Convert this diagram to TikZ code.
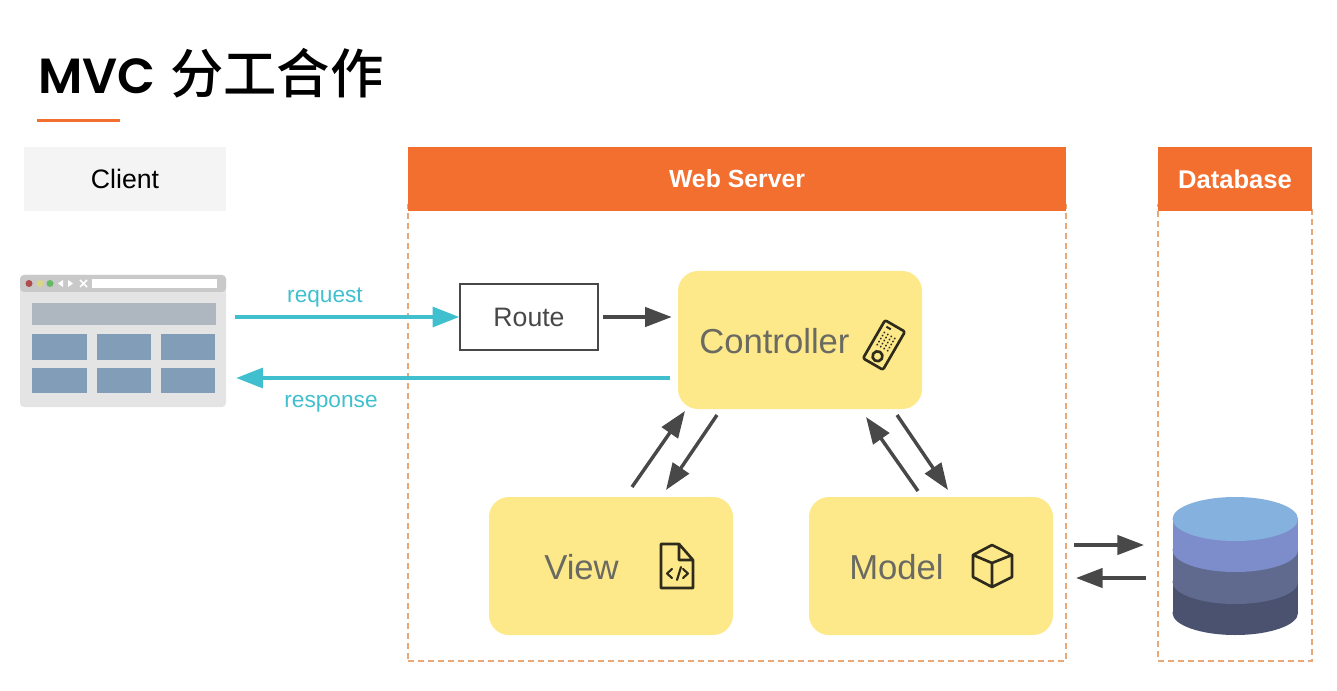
\documentclass[tikz,border=0pt]{standalone}
\usepackage{fontspec}
\setmainfont{Liberation Sans}
\newfontfamily\titlefont[UprightFont={* SemiBold}]{Poppins}
\newfontfamily\cjktitle[UprightFont={* Medium}]{Noto Sans CJK SC}
\usepackage{xcolor}
\usepackage{tikz}
\usetikzlibrary{arrows.meta,positioning,calc}
\definecolor{brandorange}{HTML}{F26F2F}
\definecolor{dashorange}{HTML}{E9A877}
\definecolor{boxyellow}{HTML}{FDE98A}
\definecolor{reqteal}{HTML}{40BFCE}
\definecolor{arrowgrey}{HTML}{484848}
\definecolor{labelgrey}{HTML}{6A6A62}
\definecolor{iconink}{HTML}{2E2B1C}
\definecolor{bannergrey}{HTML}{AEB6C0}
\definecolor{tileblue}{HTML}{829DB8}
\definecolor{dba}{HTML}{85B1DF}
\definecolor{dbb}{HTML}{7D8DCB}
\definecolor{dbc}{HTML}{5F6A8E}
\definecolor{dbd}{HTML}{4B5270}
\newcommand{\pxu}{0.75pt}
\newcommand{\fs}[1]{\fontsize{#1}{#1}\selectfont}
\tikzset{
    sized/.style 2 args={
        minimum width=#1*\pxu,
        minimum height=#2*\pxu,
        inner sep=0pt
    },
    header/.style={
        fill=brandorange,
        text=white,
        font=\fs{18.6}\bfseries
    },
    frame/.style={
        draw=dashorange,
        line width=1.1pt,
        dash pattern=on 4.5pt off 3pt
    },
    mvcbox/.style={
        fill=boxyellow,
        rounded corners=15pt,
        sized={244}{138}
    },
    mvctext/.style={
        text=labelgrey,
        font=\fs{26},
        anchor=west,
        inner sep=0pt
    },
    flow/.style={
        draw=arrowgrey,
        line width=2.6pt,
        -{Triangle[length=20pt,width=14.5pt]}
    },
    teal/.style={
        draw=reqteal,
        line width=2.4pt,
        -{Triangle[length=20pt,width=15pt]}
    },
    teallabel/.style={
        text=reqteal,
        font=\fs{17}
    },
    icon/.style={
        draw=iconink,
        line width=2pt,
        line join=round,
        line cap=round
    }
}

\begin{document}
\begin{tikzpicture}[x=0.75pt,y=-0.75pt]
    \useasboundingbox (0,0) rectangle (1337,691);

    % title
    \node[anchor=west, inner sep=0pt, text=black] (title) at (38,73)
        {\fs{37}\titlefont MVC\hspace{11pt}\fs{40}\cjktitle 分工合作};
    \node[fill=brandorange, sized={83}{3}] (rule) at (78.5,121) {};

    % columns
    \node[fill=black!4.5, sized={202}{64}, font=\fs{20}] (client) at (125,179) {Client};
    \node[frame, sized={658}{456}] (serverframe) at (737,433) {};
    \node[frame, sized={154}{456}] (dbframe) at (1235,433) {};
    \node[header, sized={658}{64}] (server) at (737,179) {Web Server};
    \node[header, sized={154}{64}, font=\fs{19.2}\bfseries] (database) at (1235,179) {Database};

    % browser
    \node[fill=black!10.5, rounded corners=3pt, sized={206}{132}] (browser) at (123,341) {};
    \fill[black!21, rounded corners=3pt] (20,292) |- (226,275) -- (226,292) -- cycle;
    \fill[red!55!black!70] (29,283.5) circle (3.5);
    \fill[yellow!70!black!55] (40,283.5) circle (3.5);
    \fill[green!55!black!60] (50,283.5) circle (3.5);
    \fill[white] (63,280) -- (63,287) -- (58,283.5) -- cycle;
    \fill[white] (68,280) -- (68,287) -- (73,283.5) -- cycle;
    \draw[white, line width=1.2pt] (80,280) -- (87,287) (87,280) -- (80,287);
    \fill[white] (92,279) rectangle (217,288);
    \fill[bannergrey] (32,303) rectangle (216,325);
    \foreach \xa/\xb in {32/87,97/151,161/215}
        \foreach \ya/\yb in {334/360,368/393}
            \fill[tileblue] (\xa,\ya) rectangle (\xb,\yb);

    % boxes
    \node[draw=arrowgrey, line width=1.2pt, fill=white, sized={138}{66}, font=\fs{20}, text=arrowgrey] (route) at (529,317) {Route};
    \node[mvcbox] (controller) at (800,340) {};
    \node[mvcbox] (view) at (611,566) {};
    \node[mvcbox] (model) at (931,566) {};
    \node[mvctext] (controllertext) at (699,341) {Controller};
    \node[mvctext] (viewtext) at (544,567) {View};
    \node[mvctext] (modeltext) at (849,567) {Model};

    % database
    \foreach \yc/\col in {613/dbd,582/dbc,550/dbb,519/dba} {
        \fill[\col] (1172.5,519) rectangle (1298,\yc);
        \fill[\col] (1235.25,\yc) circle[x radius=62.75, y radius=22];
    }

    % icons
    \begin{scope}[shift={(884,345)},rotate=-30]
        \draw[icon, rounded corners=1.5pt] (-11.5,-22) rectangle (11.5,22);
        \draw[icon] (0,13) circle (5);
        \foreach \i in {-6,-2,2,6}
            \foreach \j in {-11,-7.5,-4,-0.5,3}
                \fill[iconink] (\i,\j) circle (1.1);
        \fill[iconink] (-7,-18) rectangle (-2,-16);
    \end{scope}
    \draw[icon] (679,544) -- (661,544) -- (661,588) -- (693,588) -- (693,560) -- cycle
        (679,544) -- (679,560) -- (693,560);
    \draw[icon, line width=1.6pt] (672,569) -- (667,573.5) -- (672,578)
        (681,567) -- (677,580) (683,569) -- (688,573.5) -- (683,578);
    \draw[icon] (992,545) -- (1012,555) -- (1012,577) -- (992,587) -- (973,577) -- (973,555) -- cycle
        (973,555) -- (992,563) -- (1012,555) (992,563) -- (992,587);

    % connectors
    \coordinate (respstart) at (670,378);
    \coordinate (ctrlviewa) at (685,411);
    \coordinate (ctrlviewb) at (717,415);
    \coordinate (viewctrla) at (632,487);
    \coordinate (viewctrlb) at (666,490);
    \coordinate (ctrlmodela) at (897,415);
    \coordinate (ctrlmodelb) at (866,417);
    \coordinate (modelctrla) at (948,490);
    \coordinate (modelctrlb) at (918,491);
    \coordinate (dbin) at (1144,545);
    \coordinate (dbout) at (1146,578);
    \coordinate (modelout) at (1074,545);
    \coordinate (modelin) at (1076,578);

    \draw[teal, shorten <=6.75pt] (browser.east |- route.west) -- (route.west);
    \draw[teal, shorten >=7.5pt] (respstart) -- (respstart -| browser.east);
    \draw[flow, shorten <=3pt, shorten >=4.5pt] (route.east) -- (route.east -| controller.west);
    \draw[flow] (viewctrla) -- (ctrlviewa);
    \draw[flow] (ctrlviewb) -- (viewctrlb);
    \draw[flow] (modelctrlb) -- (ctrlmodelb);
    \draw[flow] (ctrlmodela) -- (modelctrla);
    \draw[flow] (modelout) -- (dbin);
    \draw[flow] (dbout) -- (modelin);

    \node[teallabel] (request) at (325,298) {request};
    \node[teallabel] (response) at (331,404) {response};
\end{tikzpicture}
\end{document}
